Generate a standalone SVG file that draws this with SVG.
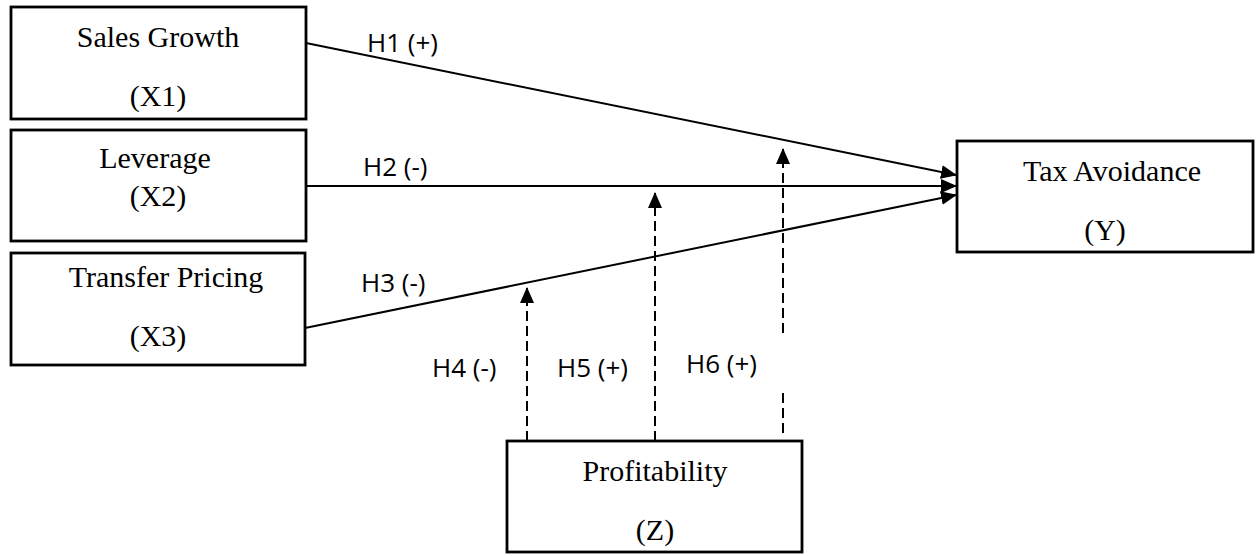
<svg xmlns="http://www.w3.org/2000/svg" width="1257" height="556" viewBox="0 0 1257 556">
<style>
.box{fill:#fff;stroke:#000;stroke-width:2.8}
.nt{font-family:"Liberation Serif","Times New Roman",serif;font-size:30px;fill:#000;text-anchor:middle}
.lb{font-family:"Open Sans","DejaVu Sans",sans-serif;font-size:26px;fill:#000}
.ln{stroke:#000;stroke-width:2;fill:none}
.dl{stroke:#000;stroke-width:2;fill:none;stroke-dasharray:10 5}
</style>
<defs>
<marker id="ah" markerUnits="userSpaceOnUse" markerWidth="16" markerHeight="16" viewBox="0 0 16 16" refX="15" refY="8" orient="auto">
<path d="M0,1 L16,8 L0,15 Z" fill="#000"/>
</marker>
</defs>
<rect width="1257" height="556" fill="#fff"/>
<g id="x1">
<rect class="box" x="11" y="7" width="295" height="112"/>
<text class="nt" x="158" y="47">Sales Growth</text>
<text class="nt" x="158" y="106">(X1)</text>
</g>
<g id="x2">
<rect class="box" x="11" y="130" width="295" height="111"/>
<text class="nt" x="155" y="168">Leverage</text>
<text class="nt" x="158" y="206">(X2)</text>
</g>
<g id="x3">
<rect class="box" x="11" y="253" width="294" height="112"/>
<text class="nt" x="166" y="287">Transfer Pricing</text>
<text class="nt" x="158" y="346">(X3)</text>
</g>
<g id="y">
<rect class="box" x="957" y="141" width="296" height="111"/>
<text class="nt" x="1112" y="181">Tax Avoidance</text>
<text class="nt" x="1105" y="240">(Y)</text>
</g>
<g id="z">
<rect class="box" x="507" y="441" width="295" height="111"/>
<text class="nt" x="655" y="481">Profitability</text>
<text class="nt" x="655" y="540">(Z)</text>
</g>
<g id="connectors">
<line class="ln" x1="306" y1="43" x2="956" y2="175" marker-end="url(#ah)"/>
<line class="ln" x1="306" y1="186" x2="956" y2="186" marker-end="url(#ah)"/>
<line class="ln" x1="305" y1="328" x2="956" y2="195" marker-end="url(#ah)"/>
<line class="dl" x1="527" y1="441" x2="527" y2="288" marker-end="url(#ah)"/>
<line class="dl" x1="655" y1="441" x2="655" y2="193" marker-end="url(#ah)"/>
<line class="dl" x1="783" y1="333" x2="783" y2="149" marker-end="url(#ah)"/>
<line class="dl" x1="783" y1="433" x2="783" y2="389"/>
</g>
<g id="labels">
<text class="lb" x="367" y="52">H1 (+)</text>
<text class="lb" x="363" y="176">H2 (-)</text>
<text class="lb" x="361" y="292">H3 (-)</text>
<text class="lb" x="432" y="377">H4 (-)</text>
<text class="lb" x="557" y="377">H5 (+)</text>
<text class="lb" x="686" y="373">H6 (+)</text>
</g>
</svg>
